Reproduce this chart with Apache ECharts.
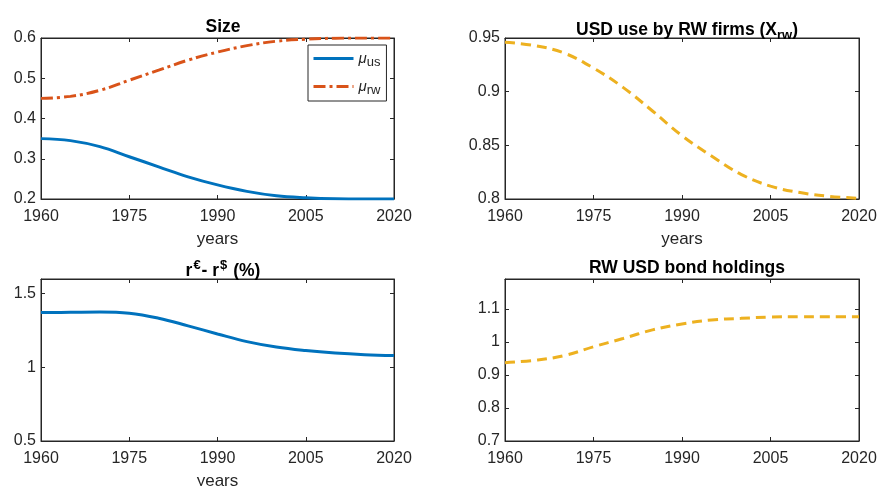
<!DOCTYPE html>
<html>
<head>
<meta charset="utf-8">
<script src="https://cdn.jsdelivr.net/npm/echarts@6/dist/echarts.min.js"></script>
<style>html,body{margin:0;padding:0;background:#fff}#c{width:879px;height:486px}</style>
</head>
<body>
<div id="c"></div>
<script>
// ---- data ----
var years = ['1960','1965','1970','1975','1980','1985','1990','1995','2000','2005','2010','2015','2020'];
var muUS  = [0.350,0.345,0.330,0.305,0.280,0.255,0.235,0.219,0.208,0.203,0.2005,0.200,0.200];
var muRW  = [0.450,0.455,0.470,0.495,0.520,0.545,0.565,0.581,0.592,0.597,0.5995,0.600,0.600];
var xRW   = [0.946,0.943,0.936,0.922,0.904,0.882,0.859,0.840,0.823,0.812,0.806,0.8025,0.8006];
var rDiff = [1.372,1.374,1.376,1.368,1.334,1.282,1.227,1.175,1.138,1.114,1.097,1.086,1.080];
var bonds = [0.937,0.944,0.958,0.985,1.010,1.036,1.054,1.066,1.071,1.075,1.076,1.076,1.076];
var yTicks = [
  {min:0.2, max:0.6, interval:0.1},
  {min:0.8, max:0.95, interval:0.05},
  {min:0.5, max:1.6, interval:0.5},
  {min:0.7, max:1.19, interval:0.1}
];

var BLUE='#0072BD', ORANGE='#D95319', YELLOW='#EDB120', AX='#262626';
var FONT='"Liberation Sans", Arial, Helvetica, sans-serif';

var grids = [
  {left:41, top:38, width:353, height:161},
  {left:505, top:38, width:354, height:161},
  {left:41, top:279, width:353, height:162},
  {left:505, top:279, width:354, height:162}
];
grids.forEach(function(g){ g.show=true; g.borderColor=AX; g.borderWidth=1; g.backgroundColor='#fff'; g.containLabel=false; g.outerBoundsMode='none'; });

var xAxes=[], yAxes=[];
var xNames=['years','years','years',''];
for (var i=0;i<4;i++){
  xAxes.push({
    type:'category', gridIndex:i, data:years, boundaryGap:false, position:'bottom',
    name:xNames[i], nameLocation:'middle', nameGap:32,
    nameTextStyle:{fontFamily:FONT,fontSize:17,color:AX},
    axisLine:{show:true,lineStyle:{color:AX,width:1}},
    axisTick:{show:true,inside:true,length:4,interval:2,lineStyle:{color:AX}},
    axisLabel:{interval:2,fontFamily:FONT,fontSize:16,color:AX,margin:10},
    splitLine:{show:false}
  });
  xAxes.push({
    type:'category', gridIndex:i, data:years, boundaryGap:false, position:'top',
    axisLine:{show:true,lineStyle:{color:AX,width:1}},
    axisTick:{show:true,inside:true,length:4,interval:2,lineStyle:{color:AX}},
    axisLabel:{show:false}, splitLine:{show:false}
  });
  var t=yTicks[i];
  yAxes.push({
    type:'value', gridIndex:i, min:t.min, max:t.max, interval:t.interval, position:'left',
    axisLine:{show:true,lineStyle:{color:AX,width:1}},
    axisTick:{show:true,inside:true,length:4,lineStyle:{color:AX}},
    axisLabel:{fontFamily:FONT,fontSize:16,color:AX,margin:5,showMaxLabel:(i<2)},
    splitLine:{show:false}
  });
  yAxes.push({
    type:'value', gridIndex:i, min:t.min, max:t.max, interval:t.interval, position:'right',
    axisLine:{show:true,lineStyle:{color:AX,width:1}},
    axisTick:{show:true,inside:true,length:4,lineStyle:{color:AX}},
    axisLabel:{show:false}, splitLine:{show:false}
  });
}

function line(name, data, gi, color, type){
  return {
    name:name, type:'line', data:data, xAxisIndex:gi*2, yAxisIndex:gi*2,
    smooth:0.4, symbol:'none', silent:true, animation:false,
    lineStyle:{color:color,width:3,type:type}, itemStyle:{color:color}
  };
}

var titleStyle = {fontFamily:FONT,fontSize:17.5,fontWeight:'bold',color:'#000'};
var option = {
  animation:false,
  title:[
    {text:'Size', left:218, top:13, textAlign:'center', textStyle:titleStyle},
    {text:'USD use by RW firms (X{s|rw})', left:682, top:13, textAlign:'center',
      textStyle:Object.assign({},titleStyle,{rich:{s:{fontFamily:FONT,fontSize:13,fontWeight:'bold',color:'#000',padding:[11,0,0,0]}}})},
    {text:'r{p|€}- r{p|$} (%)', left:218, top:254, textAlign:'center',
      textStyle:Object.assign({},titleStyle,{rich:{p:{fontFamily:FONT,fontSize:13,fontWeight:'bold',color:'#000',padding:[0,1,11,1]}}})},
    {text:'RW USD bond holdings', left:682, top:254, textAlign:'center', textStyle:titleStyle}
  ],
  legend:{
    show:true, left:308, top:45, orient:'vertical',
    itemWidth:40, itemHeight:12, itemGap:10, itemStyle:{opacity:0},
    lineStyle:{width:3},
    padding:[6,6,4,4], borderColor:AX, borderWidth:1, backgroundColor:'#fff',
    data:['us','rw'],
    formatter:function(n){ return '{m|\u03bc}{s|'+n+'}'; },
    textStyle:{fontFamily:FONT,fontSize:15,color:AX,
      rich:{m:{fontFamily:FONT,fontStyle:'italic',fontSize:15,color:AX},
            s:{fontFamily:FONT,fontSize:13,color:AX,padding:[8,0,0,0]}}}
  },
  grid:grids, xAxis:xAxes, yAxis:yAxes,
  series:[
    line('us', muUS, 0, BLUE, 'solid'),
    line('rw', muRW, 0, ORANGE, [12,4,3,4]),
    line('Xrw', xRW, 1, YELLOW, [10,6]),
    line('r', rDiff, 2, BLUE, 'solid'),
    line('b', bonds, 3, YELLOW, [10,6])
  ]
};
var chart = echarts.init(document.getElementById('c'), null, {renderer:'canvas'});
chart.setOption(option);
</script>
</body>
</html>
